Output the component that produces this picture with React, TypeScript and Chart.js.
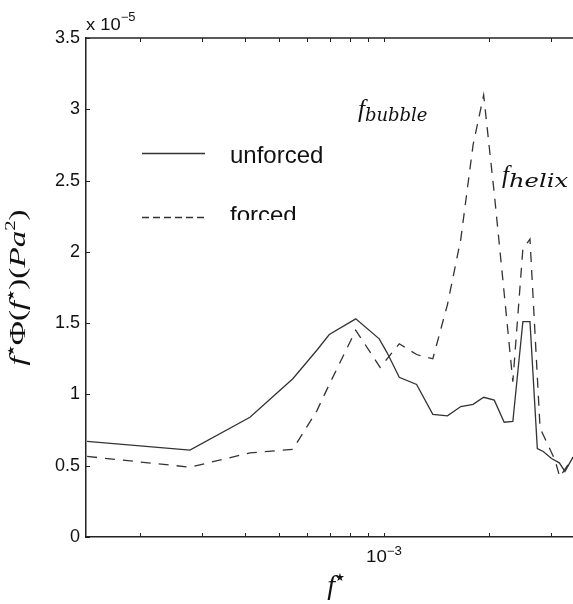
import React, { useEffect, useRef } from 'react';
import { Chart, registerables } from 'chart.js';
Chart.register(...registerables);

// ---- data (PSD values in units of 1e-5 Pa^2) ----
const unforcedFreq = [1.41e-4, 2.78e-4, 4.13e-4, 5.48e-4, 6.42e-4, 6.97e-4, 8.30e-4, 9.69e-4, 1.022e-3, 1.106e-3, 1.24e-3, 1.38e-3, 1.52e-3, 1.66e-3, 1.80e-3, 1.93e-3, 2.07e-3, 2.21e-3, 2.34e-3, 2.50e-3, 2.62e-3, 2.75e-3, 2.86e-3, 3.02e-3, 3.18e-3, 3.30e-3, 3.48e-3];
const unforcedPsd = [0.67, 0.61, 0.84, 1.11, 1.31, 1.42, 1.53, 1.39, 1.29, 1.12, 1.07, 0.86, 0.85, 0.915, 0.93, 0.98, 0.96, 0.805, 0.81, 1.51, 1.51, 0.62, 0.60, 0.55, 0.52, 0.46, 0.56];
const forcedFreq = [1.41e-4, 2.78e-4, 4.13e-4, 5.48e-4, 6.42e-4, 6.97e-4, 8.30e-4, 9.75e-4, 1.106e-3, 1.24e-3, 1.38e-3, 1.52e-3, 1.66e-3, 1.80e-3, 1.93e-3, 2.07e-3, 2.21e-3, 2.34e-3, 2.50e-3, 2.62e-3, 2.80e-3, 3.09e-3, 3.19e-3, 3.48e-3];
const forcedPsd = [0.565, 0.49, 0.59, 0.615, 0.885, 1.07, 1.45, 1.19, 1.355, 1.28, 1.25, 1.63, 2.09, 2.75, 3.10, 2.41, 1.71, 1.09, 2.02, 2.09, 0.765, 0.54, 0.42, 0.56];
const xTickValues = [2e-4, 3e-4, 4e-4, 5e-4, 6e-4, 7e-4, 8e-4, 9e-4, 1e-3, 2e-3, 3e-3];
const xLabelValue = 1e-3;
const yTickValues = [0, 0.5, 1, 1.5, 2, 2.5, 3, 3.5];
const seriesNames = ['unforced', 'forced'];
const X_MIN = 1.4e-4;
const X_MAX = 3.48e-3;

type Seg = { t: string; size: number; italic?: boolean; dy?: number; fam?: string; sx?: number };
const SERIF = "'Liberation Serif', 'DejaVu Serif', serif";
const SANS = "'Liberation Sans', Arial, sans-serif";
const STAR = "'DejaVu Sans', sans-serif";

function segFont(s: Seg) {
  return `${s.italic ? 'italic ' : ''}${s.size}px ${s.fam || SERIF}`;
}
function drawSegs(ctx: CanvasRenderingContext2D, segs: Seg[], x: number, y: number, center: boolean) {
  const widths = segs.map((s) => { ctx.font = segFont(s); return ctx.measureText(s.t).width * (s.sx || 1); });
  const total = widths.reduce((a, b) => a + b, 0);
  let cx = center ? x - total / 2 : x;
  ctx.textAlign = 'left';
  ctx.textBaseline = 'alphabetic';
  segs.forEach((s, i) => {
    ctx.font = segFont(s);
    ctx.save();
    ctx.translate(cx, y + (s.dy || 0));
    ctx.scale(s.sx || 1, 1);
    ctx.fillText(s.t, 0, 0);
    ctx.restore();
    cx += widths[i];
  });
}

const decor = {
  id: 'decor',
  afterDraw(chart: any) {
    const { ctx, chartArea, scales } = chart;
    const { left, right, top, bottom } = chartArea;
    const xs = scales.x, ys = scales.y;
    ctx.save();
    ctx.strokeStyle = '#222';
    ctx.fillStyle = '#111';
    // top box line
    ctx.lineWidth = 1.5;
    ctx.beginPath();
    ctx.moveTo(left, top);
    ctx.lineTo(right, top);
    ctx.stroke();
    // inward tick marks
    ctx.lineWidth = 1;
    ctx.beginPath();
    xTickValues.forEach((v) => {
      const px = Math.round(xs.getPixelForValue(v)) + 0.5;
      ctx.moveTo(px, bottom); ctx.lineTo(px, bottom - 4);
      ctx.moveTo(px, top); ctx.lineTo(px, top + 4);
    });
    yTickValues.forEach((v) => {
      const py = Math.round(ys.getPixelForValue(v)) + 0.5;
      ctx.moveTo(left, py); ctx.lineTo(left + 4, py);
    });
    ctx.stroke();

    // x tick label 10^-3
    const lx = xs.getPixelForValue(xLabelValue);
    drawSegs(ctx, [
      { t: '10', size: 17, fam: SANS, sx: 1.1 },
      { t: '\u22123', size: 12, fam: SANS, dy: -7, sx: 1.1 },
    ], lx, 562, true);

    // exponent label x 10^-5
    drawSegs(ctx, [
      { t: 'x 10', size: 17, fam: SANS, sx: 1.08 },
      { t: '\u22125', size: 12, fam: SANS, dy: -9, sx: 1.08 },
    ], left, 30, false);

    // x axis title
    drawSegs(ctx, [
      { t: 'f', size: 28, italic: true },
      { t: '\u2605', size: 11, dy: -13, fam: STAR },
    ], 336, 594, true);

    // y axis title (rotated)
    ctx.save();
    ctx.translate(25, (top + bottom) / 2);
    ctx.rotate(-Math.PI / 2);
    const k = 1.38;
    drawSegs(ctx, [
      { t: 'f', size: 24, italic: true, sx: k },
      { t: '\u2605', size: 9, dy: -11, fam: STAR, sx: k },
      { t: '\u03a6(', size: 24, sx: k },
      { t: 'f', size: 24, italic: true, sx: k },
      { t: '\u2605', size: 9, dy: -11, fam: STAR, sx: k },
      { t: ')(', size: 24, sx: k },
      { t: 'Pa', size: 24, italic: true, sx: k },
      { t: '2', size: 15, dy: -10, sx: k },
      { t: ')', size: 24, sx: k },
    ], 0, 0, true);
    ctx.restore();

    // annotations
    drawSegs(ctx, [
      { t: 'f', size: 25, italic: true },
      { t: 'bubble', size: 18, italic: true, dy: 4, fam: "'DejaVu Serif', serif" },
    ], 358, 117, false);
    drawSegs(ctx, [
      { t: 'f', size: 25, italic: true },
      { t: 'helix', size: 18, italic: true, dy: 4, fam: "'DejaVu Serif', serif", sx: 1.35 },
    ], 502, 183, false);

    // legend
    ctx.strokeStyle = '#333';
    ctx.lineWidth = 1.3;
    ctx.setLineDash([]);
    ctx.beginPath(); ctx.moveTo(142, 153.5); ctx.lineTo(205, 153.5); ctx.stroke();
    ctx.setLineDash([7, 4]);
    ctx.beginPath(); ctx.moveTo(142, 217.5); ctx.lineTo(205, 217.5); ctx.stroke();
    ctx.setLineDash([]);
    ctx.font = `24px ${SANS}`;
    ctx.fillStyle = '#111';
    ctx.fillText(seriesNames[0], 230, 163);
    ctx.save();
    ctx.beginPath();
    ctx.rect(220, 190, 120, 30);
    ctx.clip();
    ctx.fillText(seriesNames[1], 230, 222.5);
    ctx.restore();

    ctx.restore();
  },
};

export default function App() {
  const ref = useRef<HTMLCanvasElement>(null);
  useEffect(() => {
    const chart = new Chart(ref.current as HTMLCanvasElement, {
      type: 'line',
      data: {
        datasets: [
          {
            label: seriesNames[0],
            data: unforcedFreq.map((f, i) => ({ x: f, y: unforcedPsd[i] })),
            borderColor: '#333',
            borderWidth: 1.3,
            pointRadius: 0,
            tension: 0,
            fill: false,
          },
          {
            label: seriesNames[1],
            data: forcedFreq.map((f, i) => ({ x: f, y: forcedPsd[i] })),
            borderColor: '#333',
            borderWidth: 1.3,
            borderDash: [10, 8],
            pointRadius: 0,
            tension: 0,
            fill: false,
          },
        ],
      },
      options: {
        responsive: false,
        animation: false,
        devicePixelRatio: 1,
        layout: { padding: { top: 38, right: 0, left: 0, bottom: 0 } },
        plugins: { legend: { display: false }, tooltip: { enabled: false } },
        scales: {
          x: {
            type: 'logarithmic',
            min: X_MIN,
            max: X_MAX,
            afterBuildTicks: (s: any) => { s.ticks = xTickValues.map((v) => ({ value: v })); },
            afterFit: (s: any) => { s.height = 67; },
            ticks: { display: false },
            grid: { display: false, drawTicks: false },
            border: { display: true, color: '#222', width: 1.5 },
          },
          y: {
            type: 'linear',
            min: 0,
            max: 3.5,
            afterBuildTicks: (s: any) => { s.ticks = yTickValues.map((v) => ({ value: v })); },
            afterFit: (s: any) => { s.width = 86; },
            ticks: {
              callback: (v: any) => String(v),
              font: { family: 'Liberation Sans', size: 18 },
              color: '#111',
              padding: 6,
            },
            grid: { display: false, drawTicks: false },
            border: { display: true, color: '#222', width: 1.5 },
          },
        },
      },
      plugins: [decor],
    } as any);
    return () => chart.destroy();
  }, []);
  return (
    <div style={{ position: 'absolute', left: 0, top: 0, width: 573, height: 604, background: '#fff', overflow: 'hidden' }}>
      <canvas ref={ref} width={573} height={604} style={{ display: 'block', width: 573, height: 604 }} />
    </div>
  );
}
